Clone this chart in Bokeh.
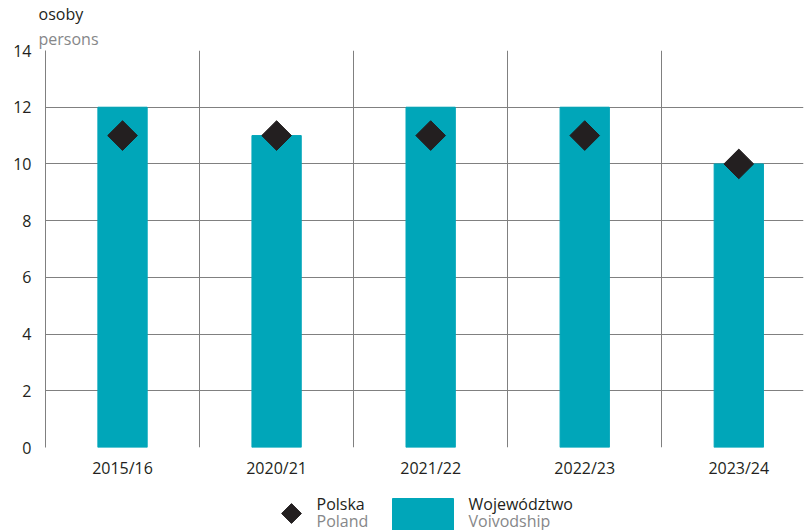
import math
from bokeh.plotting import figure
from bokeh.layouts import column
from bokeh.models import Range1d, FixedTicker, Title, ColumnDataSource
from bokeh.core.properties import value
from bokeh.embed import file_html
from bokeh.resources import INLINE

categories = ["2015/16", "2020/21", "2021/22", "2022/23", "2023/24"]
voivodship = [12, 11, 12, 12, 10]
poland = [11, 11, 11, 11, 10]
y_ticks = [0, 2, 4, 6, 8, 10, 12, 14]

FONT = "Open Sans"
TEAL = "#00a6b9"
DARK = "#231f20"
GREY = "#868789"
GRID = "#808080"

xs = [i + 0.5 for i in range(len(categories))]
src = ColumnDataSource(dict(x=xs, v=voivodship, p=poland))

p = figure(width=804, height=490, output_backend="svg", toolbar_location=None,
           x_range=Range1d(0, 4.92), y_range=Range1d(0, 14),
           min_border_left=45, min_border_right=1, min_border_top=50, min_border_bottom=43)
p.outline_line_color = None
p.background_fill_color = "white"

p.vbar(x="x", top="v", width=0.32, bottom=0, color=TEAL, source=src)
p.scatter(x="x", y="p", marker="square", angle=math.pi / 4, size=21, color=DARK, source=src)

p.xaxis.ticker = FixedTicker(ticks=xs)
p.xaxis.major_label_overrides = {x: c for x, c in zip(xs, categories)}
p.xaxis.major_tick_line_color = None
p.xaxis.minor_tick_line_color = None
p.xaxis.axis_line_color = None
p.xaxis.major_label_standoff = 3
p.xaxis.major_label_text_font = FONT
p.xaxis.major_label_text_font_size = "16px"
p.xaxis.major_label_text_color = DARK

p.yaxis.ticker = FixedTicker(ticks=y_ticks)
p.yaxis.major_tick_line_color = None
p.yaxis.minor_tick_line_color = None
p.yaxis.axis_line_color = GRID
p.yaxis.major_label_standoff = 8
p.yaxis.major_label_text_font = FONT
p.yaxis.major_label_text_font_size = "16px"
p.yaxis.major_label_text_color = DARK

p.xgrid.ticker = FixedTicker(ticks=[1, 2, 3, 4])
p.xgrid.grid_line_color = GRID
p.ygrid.grid_line_color = GRID
p.ygrid.level = "underlay"
p.xgrid.level = "underlay"

# axis unit titles above the frame
p.add_layout(Title(text="persons", align="left", offset=-7, standoff=2,
                   text_font=FONT, text_font_size="16px", text_color=GREY,
                   text_font_style="normal"), "above")
p.add_layout(Title(text="osoby", align="left", offset=-7, standoff=0,
                   text_font=FONT, text_font_size="16px", text_color=DARK,
                   text_font_style="normal"), "above")

# legend figure (frame aligned with main frame: page x 45..803)
lg = figure(width=804, height=40, output_backend="svg", toolbar_location=None,
            x_range=Range1d(45, 803), y_range=Range1d(40, 0),
            x_axis_location=None, y_axis_location=None,
            min_border=0, min_border_left=45, min_border_right=1,
            min_border_top=0, min_border_bottom=0)
lg.grid.visible = False
lg.outline_line_color = None
lg.scatter(x=[291], y=[23], marker="square", angle=math.pi / 4, size=14, color=DARK)
lg.quad(left=[392], right=[453], top=[8], bottom=[45], color=TEAL)
lg.text(x=[316, 316, 468, 468], y=[13, 30, 13, 30],
        text=["Polska", "Poland", "Województwo", "Voivodship"],
        text_color=[DARK, GREY, DARK, GREY],
        text_font=value(FONT), text_font_size="16px", text_baseline="middle")

layout = column(p, lg, spacing=0)
open("out.html", "w").write(file_html(layout, INLINE))
